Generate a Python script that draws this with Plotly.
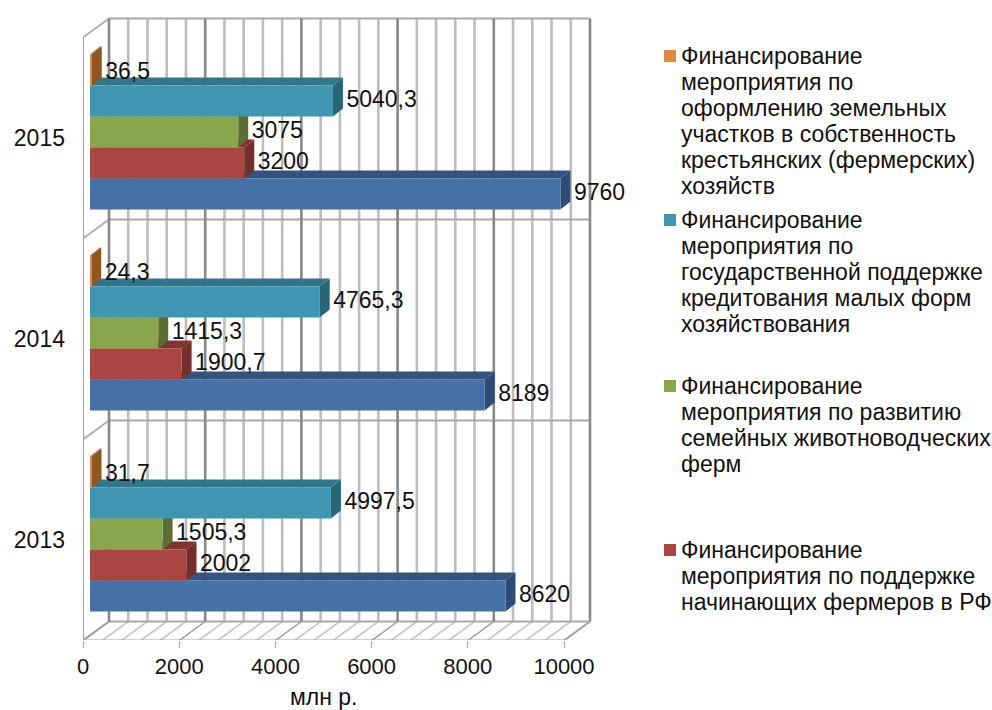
import numpy as np
import plotly.graph_objects as go

years = ["2013", "2014", "2015"]
blue = [8620, 8189, 9760]
red = [2002, 1900.7, 3200]
green = [1505.3, 1415.3, 3075]
teal = [4997.5, 4765.3, 5040.3]
orange = [31.7, 24.3, 36.5]

series_names = [
    "Ряд 5",
    "Финансирование<br>мероприятия по поддержке<br>начинающих фермеров в РФ",
    "Финансирование<br>мероприятия по развитию<br>семейных животноводческих<br>ферм",
    "Финансирование<br>мероприятия по<br>государственной поддержке<br>кредитования малых форм<br>хозяйствования",
    "Финансирование<br>мероприятия по<br>оформлению земельных<br>участков в собственность<br>крестьянских (фермерских)<br>хозяйств",
]
series_values = [blue, red, green, teal, orange]
front_colors = ["#4571a6", "#a94642", "#8aa64d", "#4096b0", "#e0873f"]
top_colors = ["#34547e", "#7f3431", "#67793a", "#33768a", "#a4632d"]
side_colors = ["#2f4d74", "#722f2c", "#5c6e34", "#2a6675", "#8d5623"]
legend_y_px = [550, 386, 220, 56]

W, H = 992, 710
L, R, T, B = 83, 600, 10, 640

axis_scale = 0.0481
bar_scale = 0.0482
period = 201.0
bar_h = 31 / period
DX_BAR, DY_BAR = 10 / bar_scale, 8 / period
DX_WALL, DY_WALL = 26 / axis_scale, 19 / period

x_range = [0, (R - L) / axis_scale]
y_range = [(540 - B) / period, (540 - T) / period]
x_bar_range = [(L - 90) / bar_scale, (R - 90) / bar_scale]
y_bar_range = [(534 - B) / period, (534 - T) / period]

fig = go.Figure()


def segs(pairs):
    xs, ys = [], []
    for (a, b), (c, d) in pairs:
        xs += [a, c, None]
        ys += [b, d, None]
    return xs, ys


def line(pairs, color, width, xa="x", ya="y"):
    xs, ys = segs(pairs)
    fig.add_trace(go.Scatter(x=xs, y=ys, mode="lines", line=dict(color=color, width=width),
                             hoverinfo="skip", showlegend=False, xaxis=xa, yaxis=ya))


y0, y3 = -0.5, 2.5
minor = [t for t in np.arange(0, 10001, 400) if t % 2000 != 0]
major = list(range(0, 10001, 2000))
bounds = [-0.5, 0.5, 1.5, 2.5]

# walls and floor
line([((t, y0), (t + DX_WALL, y0 + DY_WALL)) for t in minor], "#c9c9c9", 1.8)
line([((t + DX_WALL, y0 + DY_WALL), (t + DX_WALL, y3 + DY_WALL)) for t in minor], "#bdbdbd", 2.6)
line([((0, b), (DX_WALL, b + DY_WALL)) for b in bounds], "#b0b0b0", 2)
line([((DX_WALL, b + DY_WALL), (10000 + DX_WALL, b + DY_WALL)) for b in bounds], "#a9a9a9", 2.2)
line([((t, y0), (t + DX_WALL, y0 + DY_WALL)) for t in major], "#9a9a9a", 1.5)
line([((t + DX_WALL, y0 + DY_WALL), (t + DX_WALL, y3 + DY_WALL)) for t in major], "#888888", 2.6)
line([((0, y0), (0, y3)), ((0, y0), (10000, y0)), ((10000, y0), (10000 + DX_WALL, y0 + DY_WALL))], "#a6a6a6", 2)

# depth faces, lowest bar first
for i, vals in enumerate(series_values):
    for c, v in enumerate(vals):
        yc = c + (i - 2) * bar_h
        lo, hi = yc - bar_h / 2, yc + bar_h / 2
        fig.add_trace(go.Scatter(x=[0, v, v + DX_BAR, DX_BAR, 0], y=[hi, hi, hi + DY_BAR, hi + DY_BAR, hi],
                                 mode="lines", fill="toself", fillcolor=top_colors[i], line=dict(width=0),
                                 hoverinfo="skip", showlegend=False, xaxis="x2", yaxis="y2"))
        fig.add_trace(go.Scatter(x=[v, v, v + DX_BAR, v + DX_BAR, v], y=[lo, hi, hi + DY_BAR, lo + DY_BAR, lo],
                                 mode="lines", fill="toself", fillcolor=side_colors[i], line=dict(width=0),
                                 hoverinfo="skip", showlegend=False, xaxis="x2", yaxis="y2"))

# front faces
for i, vals in enumerate(series_values):
    fig.add_trace(go.Bar(y=[0, 1, 2], x=vals, orientation="h", name=series_names[i].replace("<br>", " "),
                         marker=dict(color=front_colors[i], line=dict(width=0)),
                         showlegend=False, xaxis="x3", yaxis="y3"))

# value labels (the thin top series sits a little lower in the reference)
for i, vals in enumerate(series_values):
    drop = 3.5 if i == 4 else 0.5
    fig.add_trace(go.Scatter(
        x=[v + 13.5 / bar_scale for v in vals],
        y=[c + (i - 2) * bar_h - drop / period for c in range(3)],
        text=[str(v).replace(".", ",") for v in vals],
        mode="text", textposition="middle right", cliponaxis=False,
        textfont=dict(family="Liberation Sans", size=23, color="#111111"),
        hoverinfo="skip", showlegend=False, xaxis="x3", yaxis="y3"))

font = dict(family="Liberation Sans", size=22, color="#111111")
big_font = dict(family="Liberation Sans", size=23, color="#111111")


def paper_x(px):
    return (px - L) / (R - L)


def paper_y(px):
    return (B - px) / (B - T)


annotations = [dict(x=5000, y=paper_y(697), xref="x", yref="paper", text="млн р.", showarrow=False,
                    font=big_font, xanchor="center", yanchor="middle")]
shapes = []
for i in range(1, 5):
    first = legend_y_px[i - 1]
    for k, text in enumerate(series_names[i].split("<br>")):
        annotations.append(dict(
            x=paper_x(680), y=paper_y(first + 26 * k), xref="paper", yref="paper",
            text=text, showarrow=False, align="left", xanchor="left", yanchor="middle",
            font=big_font, borderpad=0,
        ))
    shapes.append(dict(type="rect", xref="paper", yref="paper", line=dict(width=0),
                       fillcolor=front_colors[i],
                       x0=paper_x(664), x1=paper_x(676),
                       y0=paper_y(first + 6), y1=paper_y(first - 6)))

hidden = dict(visible=False, fixedrange=True)
fig.update_layout(
    width=W, height=H,
    margin=dict(l=L, r=W - R, t=T, b=H - B, pad=0),
    paper_bgcolor="white", plot_bgcolor="white", showlegend=False,
    barmode="group", bargap=1 - 5 * bar_h, bargroupgap=0,
    font=font, annotations=annotations, shapes=shapes,
    xaxis=dict(range=x_range, tickmode="array", tickvals=major, ticktext=[str(t) for t in major],
               showgrid=False, zeroline=False, showline=False, ticks="outside", ticklen=7,
               tickcolor="#a6a6a6", tickwidth=1, tickfont=font),
    yaxis=dict(range=y_range, tickmode="array", tickvals=[0, 1, 2], ticktext=years,
               showgrid=False, zeroline=False, showline=False, ticks="", tickfont=big_font,
               ticklabelstandoff=17),
    xaxis2=dict(range=x_bar_range, overlaying="x", **hidden),
    yaxis2=dict(range=y_bar_range, overlaying="y", **hidden),
    xaxis3=dict(range=x_bar_range, overlaying="x", **hidden),
    yaxis3=dict(range=y_bar_range, overlaying="y", **hidden),
)

fig.write_html("out.html", config=dict(displayModeBar=False),
               post_script="document.body.style.margin='0';")
